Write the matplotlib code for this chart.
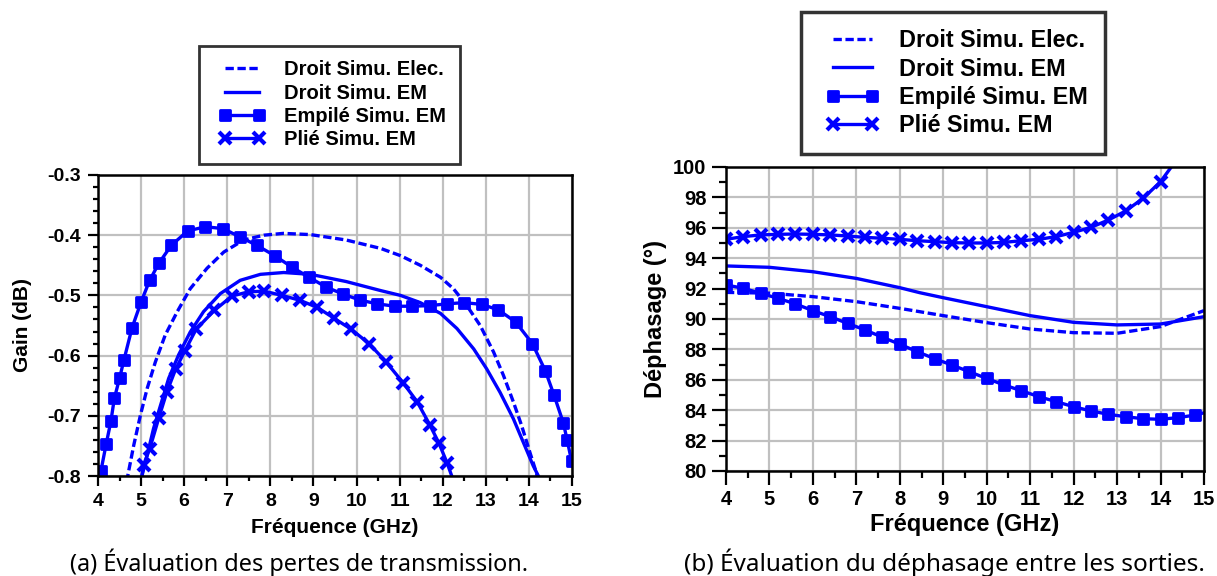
import matplotlib
matplotlib.use("Agg")
import matplotlib.pyplot as plt
from matplotlib.markers import MarkerStyle
from matplotlib.legend_handler import HandlerLine2D
from matplotlib.ticker import MultipleLocator

# ---- (a) Gain vs frequency ----
elec_a_f = [4.66, 4.69, 4.83, 4.985, 5.14, 5.33, 5.56, 5.84, 6.14, 6.53, 6.92, 7.38, 7.85, 8.30,
            8.93, 9.76, 10.56, 11.02, 11.48, 11.95, 12.25, 12.56, 12.87, 13.18, 13.41, 13.64,
            13.83, 14.02, 14.18, 14.21]
elec_a_g = [-0.81, -0.80, -0.749, -0.699, -0.655, -0.611, -0.566, -0.527, -0.489, -0.455, -0.428,
            -0.408, -0.400, -0.397, -0.399, -0.408, -0.422, -0.434, -0.450, -0.470, -0.489,
            -0.517, -0.550, -0.594, -0.633, -0.677, -0.716, -0.760, -0.796, -0.81]

em_a_f = [4.99, 5.02, 5.14, 5.29, 5.45, 5.64, 5.87, 6.14, 6.45, 6.84, 7.30, 7.77, 8.31, 8.93,
          9.76, 10.56, 11.02, 11.48, 11.95, 12.33, 12.72, 13.02, 13.33, 13.64, 13.87, 14.10,
          14.22, 14.25]
em_a_g = [-0.81, -0.80, -0.766, -0.721, -0.683, -0.638, -0.599, -0.561, -0.527, -0.497, -0.475,
          -0.465, -0.462, -0.465, -0.477, -0.492, -0.500, -0.512, -0.530, -0.555, -0.589,
          -0.622, -0.661, -0.705, -0.744, -0.783, -0.80, -0.81]

stack_a_f = [4.07, 4.19, 4.30, 4.38, 4.50, 4.60, 4.79, 5.00, 5.20, 5.41, 5.70, 6.08, 6.49,
             6.90, 7.30, 7.69, 8.10, 8.50, 8.90, 9.29, 9.69, 10.09, 10.48, 10.89, 11.29,
             11.70, 12.10, 12.50, 12.91, 13.29, 13.69, 14.08, 14.38, 14.58, 14.80, 14.89, 14.99]
stack_a_g = [-0.791, -0.747, -0.709, -0.671, -0.638, -0.608, -0.554, -0.511, -0.475, -0.447,
             -0.417, -0.393, -0.386, -0.389, -0.403, -0.417, -0.434, -0.453, -0.470, -0.486,
             -0.498, -0.508, -0.514, -0.518, -0.518, -0.517, -0.514, -0.512, -0.515, -0.524,
             -0.544, -0.580, -0.625, -0.665, -0.712, -0.741, -0.775]

fold_a_f = [5.00, 5.06, 5.20, 5.41, 5.60, 5.80, 6.01, 6.28, 6.70, 7.11, 7.50, 7.86, 8.27, 8.68,
            9.09, 9.48, 9.87, 10.29, 10.68, 11.08, 11.41, 11.70, 11.91, 12.10, 12.26]
fold_a_g = [-0.81, -0.781, -0.755, -0.704, -0.660, -0.623, -0.593, -0.556, -0.525, -0.501,
            -0.494, -0.493, -0.500, -0.508, -0.520, -0.538, -0.556, -0.580, -0.610, -0.645,
            -0.677, -0.715, -0.745, -0.778, -0.81]

# ---- (b) Phase difference vs frequency ----
elec_b_f = [4.0, 5.0, 6.0, 7.0, 8.0, 8.46, 9.0, 10.0, 11.0, 12.0, 13.0, 14.0, 15.0]
elec_b_p = [91.75, 91.70, 91.47, 91.14, 90.70, 90.48, 90.22, 89.76, 89.34, 89.10, 89.06, 89.50, 90.55]

em_b_f = [4.0, 5.0, 6.0, 7.0, 8.0, 8.46, 9.0, 10.0, 11.0, 12.0, 13.0, 14.0, 15.0]
em_b_p = [93.49, 93.40, 93.11, 92.67, 92.06, 91.73, 91.40, 90.81, 90.22, 89.78, 89.61, 89.67, 90.15]

stack_b_f = [4.0, 4.4, 4.8, 5.2, 5.6, 6.0, 6.4, 6.8, 7.2, 7.6, 8.0, 8.4, 8.8, 9.2, 9.6, 10.0,
             10.4, 10.8, 11.2, 11.6, 12.0, 12.4, 12.8, 13.2, 13.6, 14.0, 14.4, 14.8, 15.0]
stack_b_p = [92.24, 92.02, 91.69, 91.36, 90.99, 90.55, 90.15, 89.71, 89.28, 88.80, 88.34, 87.85,
             87.39, 86.97, 86.53, 86.09, 85.66, 85.28, 84.89, 84.56, 84.23, 83.95, 83.73, 83.57,
             83.44, 83.40, 83.51, 83.68, 83.83]

fold_b_f = [4.0, 4.4, 4.8, 5.2, 5.6, 6.0, 6.4, 6.8, 7.2, 7.6, 8.0, 8.4, 8.8, 9.2, 9.6, 10.0,
            10.4, 10.8, 11.2, 11.6, 12.0, 12.4, 12.8, 13.2, 13.6, 14.0, 14.35]
fold_b_p = [95.24, 95.42, 95.53, 95.57, 95.59, 95.57, 95.53, 95.46, 95.37, 95.31, 95.24, 95.15,
            95.09, 95.02, 95.00, 95.00, 95.04, 95.15, 95.24, 95.42, 95.70, 96.03, 96.51, 97.11,
            97.94, 99.03, 100.4]

labels = ["Droit Simu. Elec.", "Droit Simu. EM", "Empilé Simu. EM", "Plié Simu. EM"]
caption_a = "(a) Évaluation des pertes de transmission."
caption_b = "(b) Évaluation du déphasage entre les sorties."

plt.rcParams['font.family'] = ['Liberation Sans', 'DejaVu Sans']
plt.rcParams['font.weight'] = 'bold'
plt.rcParams['lines.scale_dashes'] = False

blue = '#0000ff'
sq = MarkerStyle('s', joinstyle='round')

fig = plt.figure(figsize=(12.17, 5.76), dpi=100)
ax1 = fig.add_axes([0.0805, 0.1736, 0.3895, 0.5226])
ax2 = fig.add_axes([0.5965, 0.1823, 0.3928, 0.5278])


def draw(ax, ef, ev, mf, mv, sf, sv, pf, pv, fold_every, stack_every):
    l1, = ax.plot(ef, ev, color=blue, lw=2.4, ls=(0, (6, 2.6)), label=labels[0])
    l2, = ax.plot(mf, mv, color=blue, lw=2.4, label=labels[1])
    l3, = ax.plot(sf, sv, color=blue, lw=2.4, marker=sq, ms=7, mew=2,
                  markevery=stack_every, label=labels[2])
    l4, = ax.plot(pf, pv, color=blue, lw=2.4, marker='x', ms=8, mew=3,
                  markevery=fold_every, label=labels[3])
    ax.set_xlim(4, 15)
    ax.xaxis.set_major_locator(MultipleLocator(1))
    ax.xaxis.set_minor_locator(MultipleLocator(0.5))
    ax.grid(True, which='major', color='#c0c0c0', lw=1.6)
    ax.set_axisbelow(True)
    for s in ax.spines.values():
        s.set_linewidth(1.8)
        s.set_color('black')
    ax.tick_params(top=False, right=False, which='both', direction='out', width=1.6)
    return [l1, l2, l3, l4]


h1 = draw(ax1, elec_a_f, elec_a_g, em_a_f, em_a_g, stack_a_f, stack_a_g,
          fold_a_f, fold_a_g, slice(1, -1), None)
ax1.set_ylim(-0.8, -0.3)
ax1.yaxis.set_major_locator(MultipleLocator(0.1))
ax1.yaxis.set_minor_locator(MultipleLocator(0.02))
ax1.set_yticklabels([f"{v:.1f}" for v in ax1.get_yticks()])
ax1.tick_params(which='major', length=7, labelsize=14, pad=5)
ax1.tick_params(which='minor', length=3.5)
ax1.set_xlabel("Fréquence (GHz)", fontsize=15, fontweight='bold')
ax1.set_ylabel("Gain (dB)", fontsize=15, fontweight='bold')
ax1.xaxis.set_label_coords(0.5, -0.14)
ax1.yaxis.set_label_coords(-0.139, 0.5)

h2 = draw(ax2, elec_b_f, elec_b_p, em_b_f, em_b_p, stack_b_f, stack_b_p,
          fold_b_f, fold_b_p, slice(0, -1), slice(0, -1))
ax2.set_ylim(80, 100)
ax2.yaxis.set_major_locator(MultipleLocator(2))
ax2.yaxis.set_minor_locator(MultipleLocator(1))
ax2.tick_params(which='major', length=10, labelsize=14.5, pad=4)
ax2.tick_params(which='minor', length=5)
ax2.set_xlabel("Fréquence (GHz)", fontsize=17, fontweight='bold')
ax2.set_ylabel("Déphasage (°)", fontsize=17, fontweight='bold')
ax2.xaxis.set_label_coords(0.5, -0.138)
ax2.yaxis.set_label_coords(-0.123, 0.5)

hm = {h: HandlerLine2D(marker_pad=0.6) for h in h1 + h2}

leg1 = fig.legend(handles=h1, loc='upper left', bbox_to_anchor=(0.1635, 0.9201),
                  fontsize=14.5, frameon=True, fancybox=False, edgecolor='black',
                  borderaxespad=0, borderpad=0.7, handlelength=2.9, handletextpad=0.6,
                  labelspacing=0.22, numpoints=2, handler_map=hm)
leg1.get_frame().set_linewidth(2)

leg2 = fig.legend(handles=h2, loc='upper left', bbox_to_anchor=(0.6582, 0.9792),
                  fontsize=16.8, frameon=True, fancybox=False, edgecolor='black',
                  borderaxespad=0, borderpad=0.75, handlelength=2.9, handletextpad=0.55,
                  labelspacing=0.22, numpoints=2, handler_map=hm)
leg2.get_frame().set_linewidth(2.5)

fig.text(0.2457, 0.0087, caption_a, ha='center', va='baseline', fontsize=16.9,
         fontweight='normal', family=['Noto Sans', 'DejaVu Sans'])
fig.text(0.7757, 0.0087, caption_b, ha='center', va='baseline', fontsize=17.5,
         fontweight='normal', family=['Noto Sans', 'DejaVu Sans'])

fig.savefig("out.png", dpi=100)
